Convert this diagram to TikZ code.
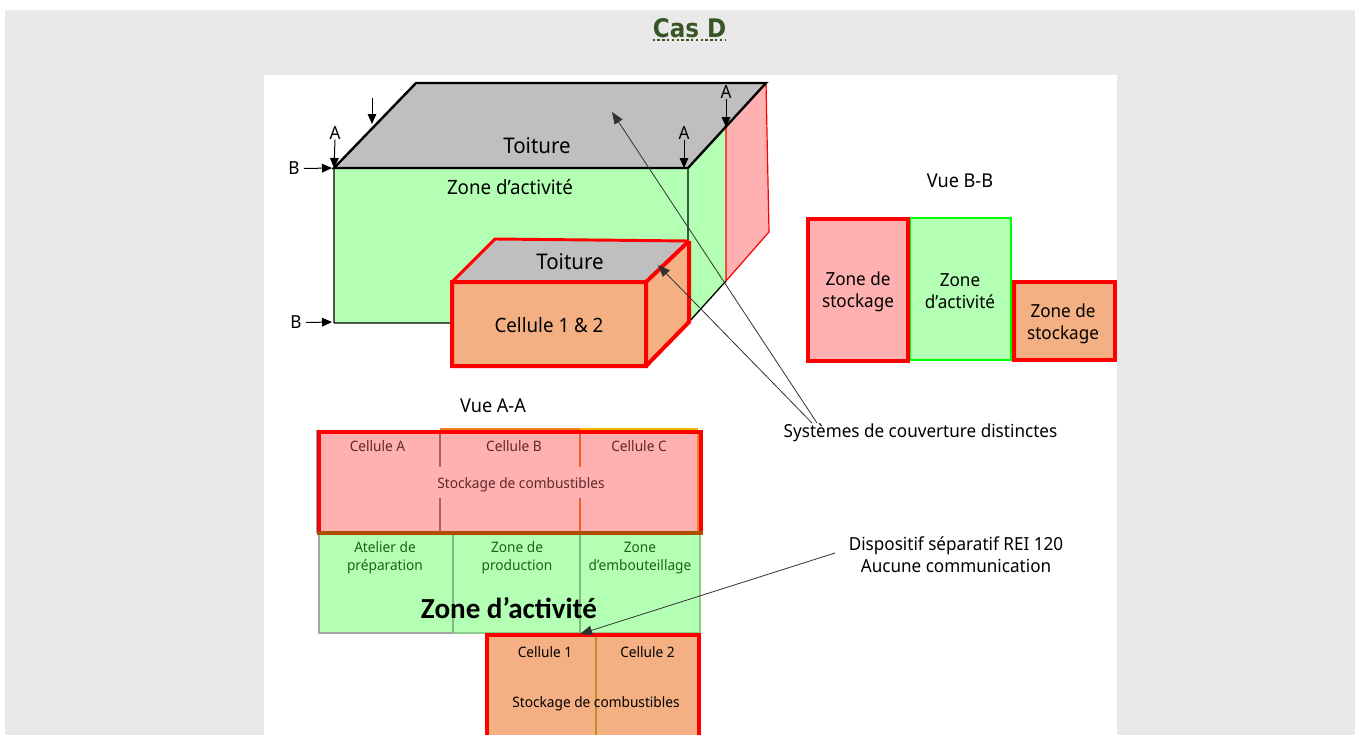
\documentclass[tikz,border=0pt]{standalone}
\usepackage{fontspec}
\setmainfont[FakeStretch=0.95]{Noto Sans}
\newfontfamily\titlefont[FakeStretch=0.9]{DejaVu Sans}
\newfontfamily\carlitofont{Carlito}
\usetikzlibrary{arrows.meta}
\definecolor{pagegray}{HTML}{E9E9E9}
\definecolor{roofgray}{HTML}{BFBFBF}
\definecolor{zonegreen}{HTML}{B3FFB3}
\definecolor{zonepink}{HTML}{FFB0B0}
\definecolor{zoneorange}{HTML}{F4B083}
\definecolor{titlegreen}{HTML}{375623}
\definecolor{redtext}{HTML}{602828}
\definecolor{greentext}{HTML}{186418}
\definecolor{divgreen}{HTML}{7DBB7D}
\definecolor{edgegreen}{HTML}{8CCB8C}
\definecolor{sepbrown}{HTML}{B04E00}
\definecolor{divorange}{HTML}{C09020}
\definecolor{divgrayred}{HTML}{B06060}
\definecolor{divredorange}{HTML}{F06020}
\definecolor{edgeblue}{HTML}{6FA8DC}
\definecolor{edgeorange}{HTML}{F07F20}
\definecolor{edgeyellow}{HTML}{F5B800}
\tikzset{
  x=0.75pt,y=-0.75pt,
  lbl/.style={inner sep=0pt,font=\fontsize{13.5}{16.5}\selectfont,text=black,align=center},
  lblwide/.style={inner sep=0pt,font=\fontsize{14.8}{16.5}\selectfont,text=black,align=center},
  big/.style={inner sep=0pt,font=\fontsize{16.2}{18}\selectfont,text=black},
  small/.style={inner sep=0pt,font=\fontsize{10.8}{13.5}\selectfont,align=center},
  smallred/.style={small,text=redtext},
  smallgreen/.style={small,text=greentext},
  tip/.style={-{Triangle[length=7.5pt,width=6.5pt]},black,line width=0.75pt},
  leader/.style={-{Triangle[length=9pt,width=7pt]},black!80,line width=0.6pt},
  thickred/.style={draw=red,line width=3.3pt,line join=miter},
  blackedge/.style={draw=black,line width=1.8pt},
  bbox/.style={rectangle,outer sep=0pt,inner sep=0pt,anchor=north west},
}
\begin{document}
\begin{tikzpicture}
\useasboundingbox (0,0) rectangle (1360,735);
\fill[white] (0,0) rectangle (1360,735);
\fill[pagegray] (5,10) rectangle (1355,735);
\fill[white] (264,75) rectangle (1117,735);
\node[inner sep=0pt,text=titlegreen,font=\titlefont\bfseries\fontsize{19.2}{20}\selectfont] (title) at (689.5,28) {Cas D};
\draw[titlegreen,line width=1.8pt,dash pattern=on 1.8pt off 1.8pt] (title.west |- 0,40) -- (title.east |- 0,40);

% main volume
\coordinate (rA) at (334,168); \coordinate (rB) at (416,83);
\coordinate (rC) at (766,83);  \coordinate (rD) at (688,168);
\coordinate (fBL) at (334,323); \coordinate (fBR) at (688,323);
\coordinate (sT) at (726,126); \coordinate (sB) at (726,281);
\coordinate (pB) at (769,232);
\fill[zonegreen] (rA) -- (rD) -- (fBR) -- (fBL) -- cycle;
\fill[zonegreen] (rD) -- (sT) -- (sB) -- (fBR) -- cycle;
\fill[zonepink] (sT) -- (rC) -- (pB) -- (sB) -- cycle;
\fill[roofgray] (rA) -- (rB) -- (rC) -- (rD) -- cycle;
\draw[draw=red,line width=0.9pt] (sT) -- (sB) -- (pB) -- (rC);
\draw[black,line width=1pt] (rD) -- (fBR) (fBL) -- (rA) (fBL) -- (fBR) (fBR) -- (sB);
\draw[blackedge] (rD) -- (rA) -- (rB) -- (rC) -- (rD);

% small volume
\coordinate (cA) at (452,282); \coordinate (cB) at (495,239);
\coordinate (cC) at (689,241); \coordinate (cD) at (646,282);
\coordinate (cE) at (646,366); \coordinate (cF) at (452,366);
\coordinate (cG) at (689,322);
\fill[roofgray] (cA) -- (cB) -- (cC) -- (cD) -- cycle;
\fill[zoneorange] (cA) -- (cD) -- (cE) -- (cF) -- cycle;
\fill[zoneorange] (cD) -- (cC) -- (cG) -- (cE) -- cycle;
\draw[draw=red,line width=2.2pt,line join=miter] (cA) -- (cB) -- (cC);
\draw[thickred,line width=3pt] (cC) -- (cD) -- (cA) -- (cF) -- (cE) -- (cD);
\draw[thickred,line width=3pt] (cC) -- (cG) -- (cE);

\node[big] (t1) at (537,146) {Toiture};
\node[lblwide] (za) at (510,187) {Zone d’activité};
\node[big] (t2) at (570,261.5) {Toiture};
\node[lblwide] (c12) at (549,325) {Cellule 1 \& 2};

% section arrows
\coordinate (a0) at (372,98); \coordinate (a0e) at (372,124);
\draw[tip] (a0) -- (a0e);
\node[lbl] (aL) at (335,133) {A};
\coordinate (aLe) at (334,168); \draw[tip] (aL.south) -- (aLe);
\node[lbl] (aM) at (684,133) {A};
\coordinate (aMe) at (684,168); \draw[tip] (aM.south) -- (aMe);
\node[lbl] (aR) at (726,92) {A};
\coordinate (aRe) at (726,127); \draw[tip] (aR.south) -- (aRe);
\node[lbl] (bT) at (294,168.5) {B};
\coordinate (bTe) at (332,168); \draw[tip] (bT.east)+(4,0) -- (bTe);
\node[lbl] (bB) at (296,322.5) {B};
\coordinate (bBe) at (332,322); \draw[tip] (bB.east)+(4,0) -- (bBe);

% Vue B-B
\node[lbl,font=\fontsize{14.3}{16.5}\selectfont] (vbb) at (960,181) {Vue B-B};
\node[bbox,fill=zonegreen,draw=green,line width=0.9pt,minimum width=101*0.75pt,minimum height=142*0.75pt] (bbg) at (910,218) {};
\node[lbl] (bbgt) at (960,291) {Zone\\d’activité};
\node[bbox,fill=zonepink,thickred,minimum width=100*0.75pt,minimum height=142*0.75pt] (bbr) at (808,219) {};
\node[lbl] (bbrt) at (858,292) {Zone de\\stockage};
\node[bbox,fill=zoneorange,thickred,minimum width=101*0.75pt,minimum height=78*0.75pt] (bbo) at (1014,282) {};
\node[lbl] (bbot) at (1063,323.5) {Zone de\\stockage};

% Vue A-A
\node[lbl,font=\fontsize{14.3}{16.5}\selectfont] (vaa) at (493,406) {Vue A-A};
\fill[zonegreen] (319,533) rectangle (701,632);
\draw[black!35,line width=1.2pt] (319,533) -- (319,633) -- (453,633);
\draw[edgegreen,line width=1.2pt] (453,633) -- (700,633) -- (700,533);
\draw[divgreen,line width=2pt] (453,533) -- (453,633) (580,533) -- (580,633);
\fill[zonepink] (319,432) rectangle (701,533);
\draw[edgeblue,line width=0.9pt] (316.5,430) -- (316.5,533);
\draw[edgeorange,line width=0.9pt] (440,429) -- (580,429);
\draw[edgeyellow,line width=0.9pt] (580,429) -- (698,429);
\draw[divgrayred,line width=1.2pt] (440,432) -- (440,467) (440,498) -- (440,533);
\draw[divredorange,line width=1.2pt] (580,432) -- (580,467) (580,498) -- (580,533);
\draw[edgeorange,line width=0.9pt] (698,432) -- (698,533);
\draw[red,line width=3.3pt] (319,533) -- (319,432) -- (701,432) -- (701,533);
\draw[sepbrown,line width=3.3pt] (317,533) -- (703,533);
\node[smallred] (ca) at (377.5,446) {Cellule A};
\node[smallred] (cb) at (514,446) {Cellule B};
\node[smallred] (cc) at (639,446) {Cellule C};
\node[smallred] (st1) at (521,485) {Stockage de combustibles};
\node[smallgreen] (at) at (385,558) {Atelier de\\préparation};
\node[smallgreen] (zp) at (517,558) {Zone de\\production};
\node[smallgreen] (ze) at (640,558) {Zone\\d’embouteillage};
\node[inner sep=0pt,font=\carlitofont\bfseries\fontsize{21.8}{24}\selectfont] (zab) at (509,608) {Zone d’activité};

\fill[zoneorange] (487,635) rectangle (699,735);
\draw[red,line width=3.3pt] (487,735) -- (487,635) -- (699,635) -- (699,735);
\draw[divorange,line width=1pt] (596,637) -- (596,735);
\node[small] (c1) at (545,652) {Cellule 1};
\node[small] (c2) at (647.5,652) {Cellule 2};
\node[small] (st2) at (596,704) {Stockage de combustibles};

% leaders
\node[lbl] (sys) at (920.5,433) {Systèmes de couverture distinctes};
\node[lbl] (disp) at (956,555) {Dispositif séparatif REI 120\\Aucune communication};
\coordinate (s1) at (817,423); \coordinate (e1) at (612,112);
\coordinate (s2) at (812,423); \coordinate (e2) at (658,265);
\coordinate (s3) at (835,553); \coordinate (e3) at (580,634);
\draw[leader] (s1) -- (e1);
\draw[leader] (s2) -- (e2);
\draw[leader] (s3) -- (e3);
\end{tikzpicture}
\end{document}
